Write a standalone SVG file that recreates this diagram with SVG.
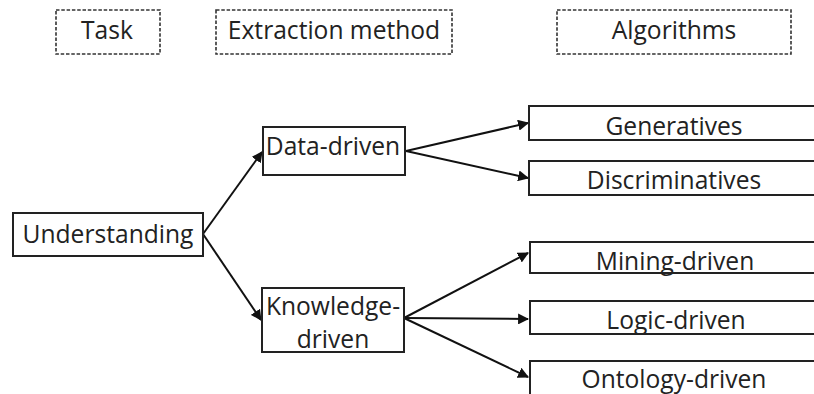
<svg xmlns="http://www.w3.org/2000/svg" width="814" height="394" viewBox="0 0 814 394">
<style>
.t{font-family:"Open Sans","Liberation Sans",sans-serif;font-size:24.6px;fill:#222;text-anchor:middle}
.hdr{fill:none;stroke:#333;stroke-width:1.6;stroke-dasharray:3.5 1.8}
.box{fill:#fff;stroke:#222;stroke-width:2}
.edge{fill:none;stroke:#111;stroke-width:2;marker-end:url(#ah)}
</style>
<defs>
<marker id="ah" viewBox="0 0 10 10" refX="9" refY="5" markerWidth="5.5" markerHeight="5.5" orient="auto" markerUnits="strokeWidth">
<path d="M0,0 L10,5 L0,10 Z" fill="#111"/>
</marker>
</defs>
<rect width="814" height="394" fill="#fff"/>
<g id="hdr-task"><rect class="hdr" x="56" y="10" width="104" height="44"/><text class="t" x="107" y="39">Task</text></g>
<g id="hdr-extraction"><rect class="hdr" x="216" y="10" width="236" height="44"/><text class="t" x="334" y="39">Extraction method</text></g>
<g id="hdr-algorithms"><rect class="hdr" x="557" y="10" width="234" height="44"/><text class="t" x="674" y="39">Algorithms</text></g>
<g id="connectors">
<path class="edge" d="M203,234 L262,152"/>
<path class="edge" d="M203,234 L261,320"/>
<path class="edge" d="M406,151 L528,123"/>
<path class="edge" d="M406,151 L528,178"/>
<path class="edge" d="M404,318 L528,253"/>
<path class="edge" d="M404,318 L528,319"/>
<path class="edge" d="M404,318 L528,377"/>
</g>
<g id="understanding"><rect class="box" x="13" y="213" width="190" height="43"/><text class="t" x="108" y="243">Understanding</text></g>
<g id="data-driven"><rect class="box" x="263" y="127" width="142" height="48"/><text class="t" x="333" y="155">Data-driven</text></g>
<g id="knowledge-driven"><rect class="box" x="262" y="288" width="142" height="64"/><text class="t" x="333" y="315">Knowledge-</text><text class="t" x="333" y="348">driven</text></g>
<g id="generatives"><rect class="box" x="529" y="106" width="292" height="34"/><text class="t" x="674" y="135">Generatives</text></g>
<g id="discriminatives"><rect class="box" x="529" y="161" width="292" height="34"/><text class="t" x="674" y="189">Discriminatives</text></g>
<g id="mining-driven"><rect class="box" x="530" y="242" width="292" height="31"/><text class="t" x="675" y="270">Mining-driven</text></g>
<g id="logic-driven"><rect class="box" x="530" y="301" width="292" height="33"/><text class="t" x="676" y="329">Logic-driven</text></g>
<g id="ontology-driven"><rect class="box" x="530" y="361" width="292" height="40"/><text class="t" x="674" y="388">Ontology-driven</text></g>
</svg>
